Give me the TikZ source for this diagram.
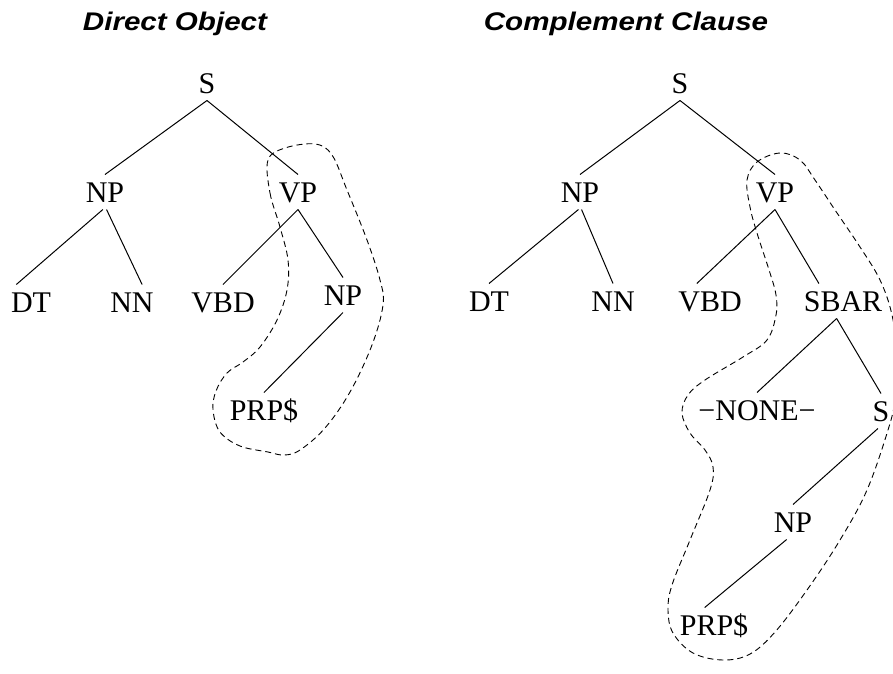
\documentclass[tikz,border=0pt]{standalone}
\usepackage{graphicx}
\usepackage{fontspec}
\setmainfont{Liberation Serif}
\setsansfont{Liberation Sans}
\begin{document}
\begin{tikzpicture}
      [x=1pt,y=-1pt,line width=1pt,
       lbl/.style={anchor=base, inner sep=7pt, text height=20pt, text depth=0pt,
                   font=\fontsize{30}{36}\selectfont},
       ttl/.style={anchor=base, inner sep=0pt,
                   font=\fontsize{25.5}{30}\selectfont\sffamily\bfseries\itshape},
       hull/.style={dash pattern=on 6pt off 4pt, line width=0.9pt}]
    \useasboundingbox (0,0) rectangle (893,673);
    \clip (0,0) rectangle (893,673);

    % titles
    \node[ttl] (titleA) at (175,30) {\scalebox{1.16}[1]{Direct Object}};
    \node[ttl] (titleB) at (626,30) {\scalebox{1.16}[1]{Complement Clause}};

    % direct object tree
    \node[lbl] (sA)   at (207,93)  {S};
    \node[lbl] (npA)  at (105,202) {NP};
    \node[lbl] (vpA)  at (298,202) {VP};
    \node[lbl] (dtA)  at (31,312)  {DT};
    \node[lbl] (nnA)  at (132,312) {NN};
    \node[lbl] (vbdA) at (223,312) {VBD};
    \node[lbl] (npA2) at (343,305) {NP};
    \node[lbl] (prpA) at (264,420) {PRP\$};

    % complement clause tree
    \node[lbl] (sB)    at (680,93)  {S};
    \node[lbl] (npB)   at (580,202) {NP};
    \node[lbl] (vpB)   at (775,202) {VP};
    \node[lbl] (dtB)   at (489,311) {DT};
    \node[lbl] (nnB)   at (613,311) {NN};
    \node[lbl] (vbdB)  at (710,311) {VBD};
    \node[lbl] (sbarB) at (843,311) {SBAR};
    \node[lbl] (noneB) at (757,420) {−NONE−};
    \node[lbl] (sB2)   at (881,421) {S};
    \node[lbl] (npB2)  at (793,532) {NP};
    \node[lbl] (prpB)  at (714,635) {PRP\$};

    \foreach \from/\to in {sA.south/npA.north, sA.south/vpA.north,
                           npA.263/dtA.130, npA.275/nnA.60,
                           vpA.south/vbdA.north, vpA.south/npA2.north, npA2.south/prpA.north,
                           sB.south/npB.north, sB.south/vpB.north,
                           npB.265/dtB.north, npB.275/nnB.north,
                           vpB.south/vbdB.127, vpB.south/sbarB.144,
                           sbarB.250/noneB.north, sbarB.250/sB2.north,
                           sB2.260/npB2.north, npB2.250/prpB.118}
      \draw (\from) -- (\to);

    % dashed outlines
    \draw[hull] plot[smooth cycle, tension=0.6] coordinates {
      (268,160) (270,193) (280,227) (288,260) (287,290) (277,320) (260,347) (243,362)
      (227,373) (216,391) (213,410) (220,432) (240,446) (268,452) (284,455) (300,450)
      (325,428) (350,392) (372,345) (383,305) (380,280) (367,240) (347,190) (332,155)
      (315,144) (285,148)};
    \draw[hull] plot[smooth cycle, tension=0.6] coordinates {
      (750,207) (747,180) (757,162) (780,153) (800,160) (815,180) (835,210) (860,247)
      (880,280) (892,315) (898,360) (895,400) (888,430) (867,490) (840,540) (807,590)
      (775,632) (750,654) (723,660) (693,653) (673,633) (668,610) (672,585) (690,540)
      (710,490) (713,467) (705,450) (690,433) (682,413) (688,395) (705,380) (743,357)
      (767,340) (776,315) (776,295) (770,273) (757,233)};
  \end{tikzpicture}
\end{document}
